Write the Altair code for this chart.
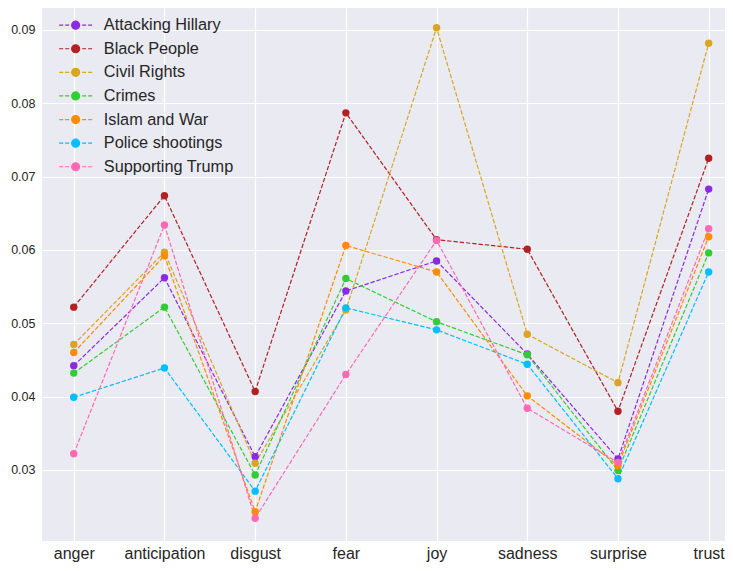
import altair as alt
import pandas as pd

categories = ["anger", "anticipation", "disgust", "fear", "joy", "sadness", "surprise", "trust"]
series_names = ["Attacking Hillary", "Black People", "Civil Rights", "Crimes",
                "Islam and War", "Police shootings", "Supporting Trump"]
colors = ["#8A2BE2", "#B22222", "#DAA520", "#32CD32", "#FF8C00", "#00BFFF", "#FF69B4"]

attacking_hillary = [0.0442, 0.0562, 0.0318, 0.0544, 0.0585, 0.0458, 0.0315, 0.0683]
black_people      = [0.0522, 0.0674, 0.0407, 0.0787, 0.0614, 0.0601, 0.0380, 0.0725]
civil_rights      = [0.0471, 0.0597, 0.0309, 0.0518, 0.0903, 0.0485, 0.0419, 0.0882]
crimes            = [0.0432, 0.0522, 0.0293, 0.0561, 0.0502, 0.0457, 0.0299, 0.0596]
islam_and_war     = [0.0460, 0.0592, 0.0243, 0.0606, 0.0570, 0.0401, 0.0306, 0.0618]
police_shootings  = [0.0399, 0.0439, 0.0271, 0.0521, 0.0491, 0.0444, 0.0288, 0.0570]
supporting_trump  = [0.0322, 0.0634, 0.0234, 0.0430, 0.0613, 0.0384, 0.0310, 0.0629]

all_series = [attacking_hillary, black_people, civil_rights, crimes,
              islam_and_war, police_shootings, supporting_trump]

rows = []
for name, vals in zip(series_names, all_series):
    for i, (cat, v) in enumerate(zip(categories, vals)):
        rows.append({"series": name, "idx": i, "emotion": cat, "value": v})
df = pd.DataFrame(rows)

label_expr = "[" + ",".join("'%s'" % c for c in categories) + "][datum.value]"

# legend symbol: dashed line with a circle in the middle
sym = ("M-3,0H-2.27M-1.91,0H-1.18M1.18,0H1.91M2.27,0H3"
       "M0.727,0A0.727,0.727,0,1,1,-0.727,0A0.727,0.727,0,1,1,0.727,0Z")

x_enc = alt.X("idx:Q",
              scale=alt.Scale(domain=[-0.35, 7.18], nice=False, zero=False),
              axis=alt.Axis(values=list(range(8)), labelExpr=label_expr, title=None,
                            labelFontSize=16, labelPadding=4, labelAngle=0))
y_enc = alt.Y("value:Q",
              scale=alt.Scale(domain=[0.0203, 0.0930], nice=False, zero=False),
              axis=alt.Axis(values=[0.03, 0.04, 0.05, 0.06, 0.07, 0.08, 0.09],
                            format=".2f", title=None, labelFontSize=12.5, labelPadding=7))

legend = alt.Legend(title=None, orient="none", legendX=25.5, legendY=9,
                    symbolType=sym, symbolSize=121, symbolStrokeWidth=1.2,
                    labelFontSize=16.3, labelOffset=20, rowPadding=6.6,
                    labelColor="#262626", labelFont="Liberation Sans", padding=0)

scale = alt.Scale(domain=series_names, range=colors)

lines = alt.Chart(df).mark_line(strokeDash=[4.4, 1.9], strokeWidth=1.2).encode(
    x=x_enc, y=y_enc,
    stroke=alt.Stroke("series:N", scale=scale, legend=legend),
    detail="series:N",
    order="idx:Q",
)

points = alt.Chart(df).mark_point(filled=True, size=55, opacity=1).encode(
    x=x_enc, y=y_enc,
    fill=alt.Fill("series:N", scale=scale, legend=legend),
)

chart = alt.layer(lines, points).properties(
    width=683, height=533,
    autosize=alt.AutoSizeParams(type="none"),
    padding={"left": 34, "top": 0, "right": 0, "bottom": 22},
    background="white",
).configure_view(
    fill="#EAEAF2", stroke=None
).configure_axis(
    domain=False, ticks=False, grid=True, gridColor="white", gridWidth=1.2,
    labelColor="#262626", labelFont="Liberation Sans"
)

chart.save("out.html", embed_options={"renderer": "svg", "actions": False})
